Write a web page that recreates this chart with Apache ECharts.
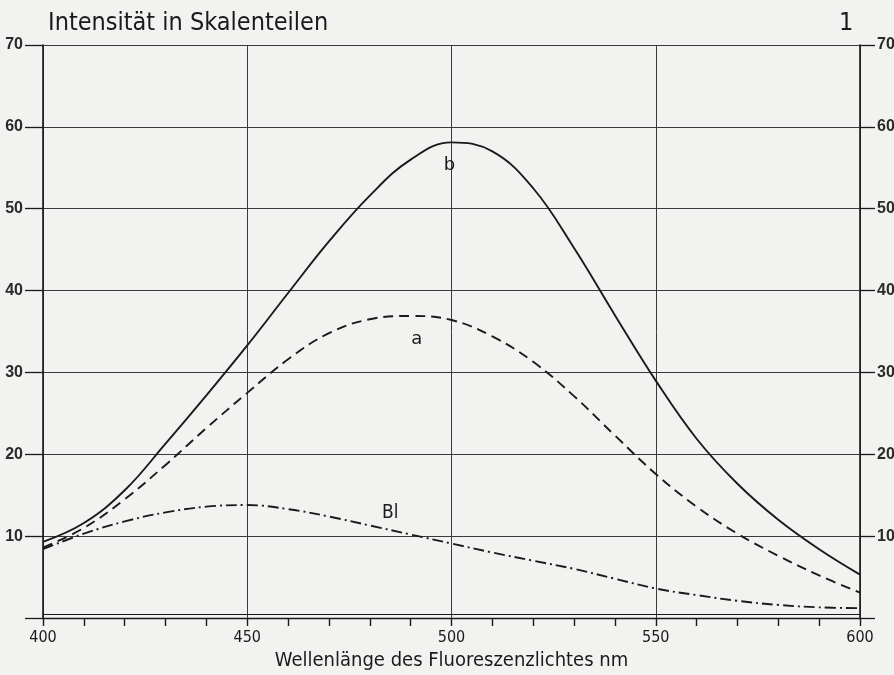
<!DOCTYPE html>
<html>
<head>
<meta charset="utf-8">
<script src="https://cdn.jsdelivr.net/npm/echarts@6/dist/echarts.min.js"></script>
<style>
html,body{margin:0;padding:0;background:#f2f2f0;}
#chart{width:894px;height:675px;}
</style>
</head>
<body>
<div id="chart"></div>
<script>
// Wellenlänge (nm)
const wavelengths = [400,410,420,430,440,450,460,470,480,490,500,510,520,530,540,550,560,570,580,590,600];
// Kurve b (durchgezogen)
const intensityB  = [9.3,11.6,15.6,21.3,27.2,33.3,39.7,46.0,51.6,56.0,58.1,57.0,52.5,45.2,37.0,29.0,21.9,16.4,12.0,8.4,5.3];
// Kurve a (gestrichelt)
const intensityA  = [8.6,11.0,14.5,18.7,23.2,27.5,31.6,34.8,36.5,36.9,36.4,34.4,31.3,27.1,22.3,17.6,13.6,10.3,7.6,5.2,3.1];
// Kurve Bl (strichpunktiert)
const intensityBl = [8.4,10.3,11.8,12.9,13.6,13.8,13.3,12.4,11.3,10.2,9.1,8.0,7.0,6.0,4.8,3.6,2.8,2.1,1.6,1.3,1.2];
// Kurvenbeschriftungen [Text, Wellenlänge, Intensität]
const curveLabels = [["b",499.5,55.3],["a",491.5,34.0],["Bl",485,12.8]];
const yTicks = [0,10,20,30,40,50,60,70];
const xTicks = [400,450,500,550,600];

const ink = '#1a1a1a';
const gridInk = '#3a3a3a';

function zip(ys){ return wavelengths.map((x,i)=>[x,ys[i]]); }

const chart = echarts.init(document.getElementById('chart'), null, {renderer:'canvas'});
const yLabelFmt = v => (v === yTicks[0] ? '' : String(v));

chart.setOption({
  backgroundColor:'#f2f2f0',
  animation:false,
  title:[
    {text:'Intensität in Skalenteilen', left:43, top:6,
     textStyle:{fontFamily:'DejaVu Sans Condensed', fontSize:25, fontWeight:'normal', color:ink}},
    {text:'1', left:834, top:6,
     textStyle:{fontFamily:'DejaVu Sans Condensed', fontSize:25, fontWeight:'normal', color:ink}}
  ],
  grid:{left:43, right:34, top:45, bottom:57, containLabel:false, outerBoundsMode:'none'},
  xAxis:{
    type:'value', min:xTicks[0], max:xTicks[xTicks.length-1], interval:50,
    name:'Wellenlänge des Fluoreszenzlichtes nm', nameLocation:'middle', nameGap:30,
    nameTextStyle:{fontFamily:'DejaVu Sans Condensed', fontSize:20, color:ink},
    axisLine:{show:true, lineStyle:{color:ink, width:1.4}},
    axisTick:{show:true, inside:false, length:8, lineStyle:{color:ink, width:1.4}},
    minorTick:{show:true, splitNumber:5, length:8, lineStyle:{color:ink, width:1.4}},
    axisLabel:{margin:12, fontFamily:'DejaVu Sans Condensed', fontSize:16, color:ink},
    splitLine:{show:true, lineStyle:{color:gridInk, width:1}}
  },
  yAxis:[
    {type:'value', position:'left', min:yTicks[0], max:yTicks[yTicks.length-1], interval:10,
     axisLine:{show:true, lineStyle:{color:ink, width:1.6}},
     axisTick:{show:true, length:18, lineStyle:{color:ink, width:1.3}},
     axisLabel:{margin:20, fontFamily:'Liberation Sans', fontWeight:'bold', fontSize:16, color:'#2a2a2a', formatter:yLabelFmt},
     splitLine:{show:true, lineStyle:{color:gridInk, width:1}}},
    {type:'value', position:'right', min:yTicks[0], max:yTicks[yTicks.length-1], interval:10,
     axisLine:{show:true, lineStyle:{color:ink, width:1.6}},
     axisTick:{show:true, length:15, lineStyle:{color:ink, width:1.3}},
     axisLabel:{margin:17, fontFamily:'Liberation Sans', fontWeight:'bold', fontSize:16, color:'#2a2a2a', formatter:yLabelFmt},
     splitLine:{show:false}}
  ],
  series:[
    {name:'b', type:'line', data:zip(intensityB), smooth:0.4, showSymbol:false,
     lineStyle:{color:ink, width:1.9, type:'solid'},
     markLine:{silent:true, symbol:'none', label:{show:false},
       lineStyle:{color:ink, width:1, type:'solid'}, data:[{yAxis:0.4}]},
     markPoint:{symbol:'circle', symbolSize:0,
       label:{show:true, formatter:p=>p.name, fontFamily:'DejaVu Sans', fontSize:18, color:ink},
       data:curveLabels.slice(0,1).map(l=>({name:l[0], coord:[l[1],l[2]]}))}},
    {name:'a', type:'line', data:zip(intensityA), smooth:0.4, showSymbol:false,
     lineStyle:{color:ink, width:1.9, type:[10,6]},
     markPoint:{symbol:'circle', symbolSize:0,
       label:{show:true, formatter:p=>p.name, fontFamily:'DejaVu Sans', fontSize:18, color:ink},
       data:curveLabels.slice(1,2).map(l=>({name:l[0], coord:[l[1],l[2]]}))}},
    {name:'Bl', type:'line', data:zip(intensityBl), smooth:0.4, showSymbol:false,
     lineStyle:{color:ink, width:1.9, type:[11,4,2,4]},
     markPoint:{symbol:'circle', symbolSize:0,
       label:{show:true, formatter:p=>p.name, fontFamily:'DejaVu Sans Condensed', fontSize:19, color:ink},
       data:curveLabels.slice(2,3).map(l=>({name:l[0], coord:[l[1],l[2]]}))}}
  ]
});
</script>
</body>
</html>
